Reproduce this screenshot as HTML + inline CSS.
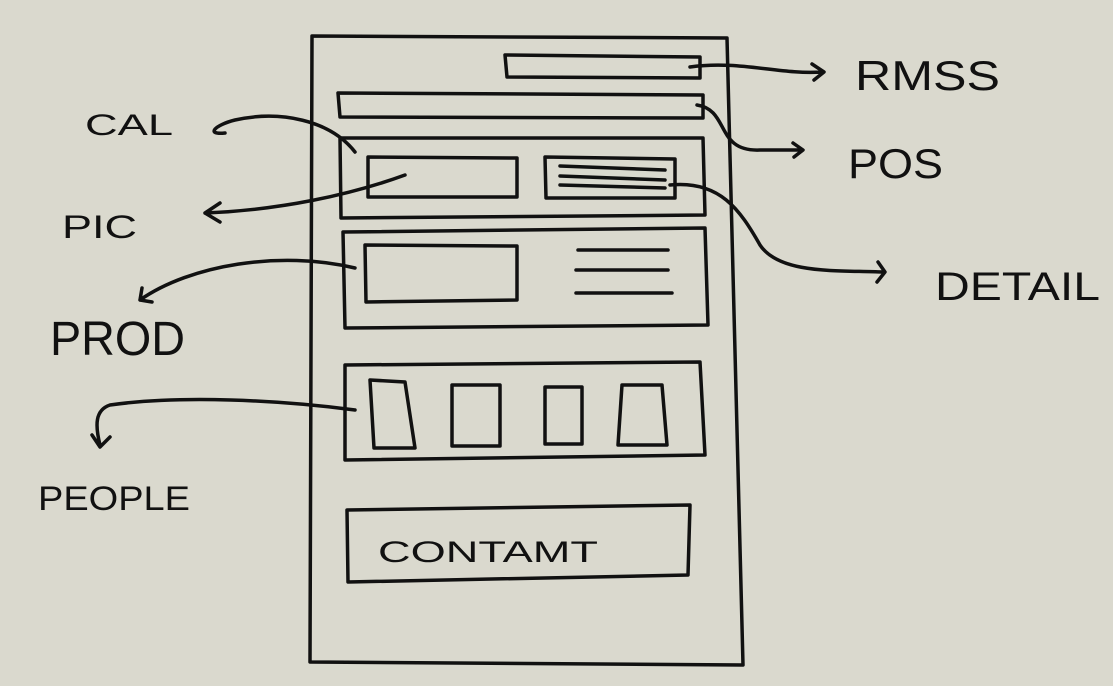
<!DOCTYPE html>
<html><head><meta charset="utf-8"><style>
html,body{margin:0;padding:0;background:#dad9ce;}
svg{display:block}
text{font-family:"Liberation Sans",sans-serif;fill:#111;font-weight:normal}
</style></head><body>
<svg width="1113" height="686" viewBox="0 0 1113 686" xmlns="http://www.w3.org/2000/svg">
<rect width="1113" height="686" fill="#dad9ce"/>
<g fill="none" stroke="#111" stroke-width="3.5" stroke-linecap="round" stroke-linejoin="round">
<path d="M312,36 L727,38 L743,665 L310,662 Z"/>
<path d="M505,55 L700,57 L700,78 L507,77 Z"/>
<path d="M338,93 L703,95 L703,118 L340,117 Z"/>
<path d="M340,138 L703,138 L705,215 L341,218 Z"/>
<path d="M368,157 L517,158 L517,197 L368,197 Z"/>
<path d="M545,157 L675,159 L675,198 L546,198 Z"/>
<path d="M560,166 L665,170 M560,176 L665,180 M560,185 L665,188"/>
<path d="M343,232 L705,228 L708,325 L345,328 Z"/>
<path d="M365,245 L517,246 L517,300 L366,302 Z"/>
<path d="M578,250 L668,250 M576,270 L668,270 M576,293 L672,293"/>
<path d="M345,365 L700,362 L705,455 L345,460 Z"/>
<path d="M370,380 L405,382 L415,448 L374,448 Z"/>
<path d="M452,385 L500,385 L500,446 L452,446 Z"/>
<path d="M545,387 L582,387 L582,444 L545,444 Z"/>
<path d="M622,385 L662,385 L667,445 L618,445 Z"/>
<path d="M347,510 L690,505 L688,575 L348,582 Z"/>
<!-- RMSS arrow -->
<path d="M690,67 C740,60 780,75 822,72 M812,64 L824,72 L814,80"/>
<!-- POS arrow -->
<path d="M697,105 C730,110 715,152 760,150 L802,150 M793,143 L803,150 L794,157"/>
<!-- CAL -->
<path d="M355,152 C330,120 280,110 235,120 C215,125 205,135 225,133"/>
<!-- PIC -->
<path d="M405,175 C350,195 280,210 205,213 M220,203 L205,213 L220,222"/>
<!-- DETAIL -->
<path d="M670,185 C720,180 740,210 760,245 C780,275 840,270 882,272 M878,262 L885,272 L877,282"/>
<!-- PROD -->
<path d="M355,268 C280,250 190,265 140,300 M142,288 L140,300 L152,302"/>
<!-- PEOPLE -->
<path d="M355,410 C280,400 180,395 110,405 C95,410 95,425 100,445 M92,435 L100,447 L110,437"/>
</g>
<text x="855" y="90" font-size="42" textLength="145" lengthAdjust="spacingAndGlyphs">RMSS</text>
<text x="848" y="178" font-size="42" textLength="95" lengthAdjust="spacingAndGlyphs">POS</text>
<text x="85" y="135" font-size="30" textLength="88" lengthAdjust="spacingAndGlyphs">CAL</text>
<text x="62" y="238" font-size="32" textLength="75" lengthAdjust="spacingAndGlyphs">PIC</text>
<text x="935" y="300" font-size="40" textLength="165" lengthAdjust="spacingAndGlyphs">DETAIL</text>
<text x="50" y="355" font-size="48" textLength="135" lengthAdjust="spacingAndGlyphs">PROD</text>
<text x="38" y="510" font-size="34" textLength="152" lengthAdjust="spacingAndGlyphs">PEOPLE</text>
<text x="378" y="562" font-size="30" textLength="220" lengthAdjust="spacingAndGlyphs">CONTAMT</text>
</svg>
</body></html>
